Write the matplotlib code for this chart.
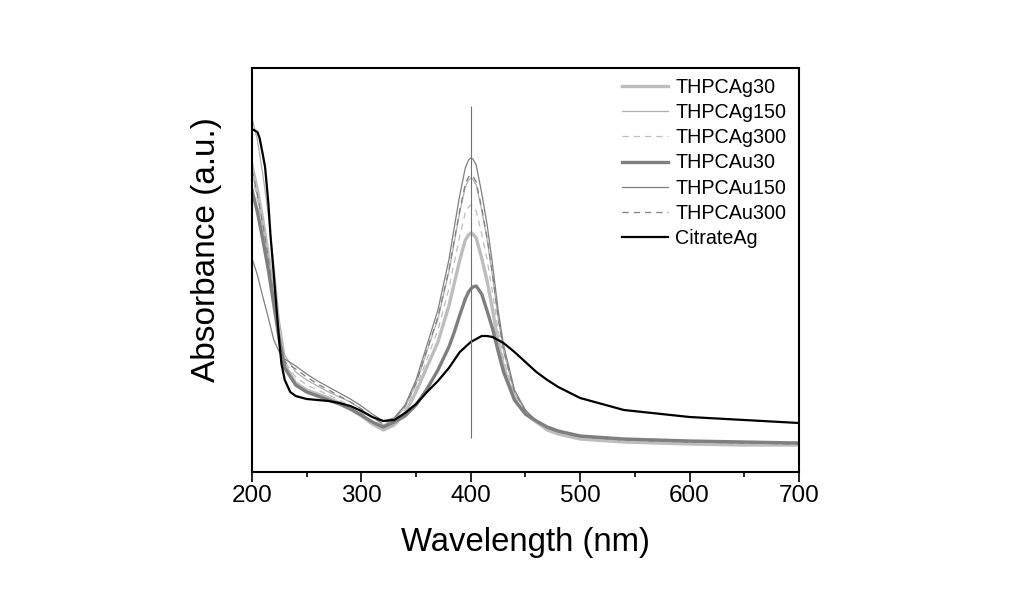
import numpy as np
import matplotlib
matplotlib.use("Agg")
from matplotlib import pyplot as plt

plt.rcParams['font.family'] = ['Liberation Sans', 'DejaVu Sans']

# wavelength grid (nm) for the THPC spectra
wl = [200, 205, 210, 215, 220, 225, 230, 240, 250, 260, 270, 280, 290, 300, 310, 320,
      330, 340, 350, 360, 370, 380, 385, 390, 395, 398, 400, 402, 405, 410, 415, 420, 425, 430,
      440, 450, 460, 470, 480, 500, 540, 600, 650, 700]

# absorbance, arbitrary units
thpc_ag30 = [307, 282, 252, 217, 177, 137, 107, 89, 82, 78, 74, 69, 63, 56, 48, 42,
             47, 59, 80, 105, 130, 166, 189, 212, 232, 237, 239, 238, 234, 214, 191, 162, 130, 105,
             72, 58, 50, 42, 38, 33, 30, 28, 27, 27]
thpc_ag150 = [354, 332, 297, 257, 207, 152, 117, 100, 92, 86, 80, 75, 70, 63, 55, 47,
              52, 65, 88, 121, 153, 200, 230, 260, 285, 292, 294, 293, 287, 262, 232, 195, 154, 121,
              79, 61, 51, 44, 40, 35, 32, 30, 29, 28]
thpc_ag300 = [297, 272, 242, 210, 172, 134, 110, 95, 87, 82, 77, 72, 66, 59, 51, 44,
              49, 62, 84, 113, 142, 183, 210, 236, 259, 265, 267, 266, 261, 238, 212, 179, 142, 113,
              76, 60, 50, 43, 39, 34, 31, 29, 28, 27]
thpc_au30 = [282, 260, 232, 202, 167, 132, 104, 87, 80, 76, 72, 68, 63, 57, 50, 45,
             50, 56, 67, 83, 102, 125, 140, 157, 173, 180, 183, 185, 186, 178, 161, 143, 121, 100,
             72, 58, 51, 45, 41, 36, 33, 31, 30, 29]
thpc_au150 = [214, 197, 175, 154, 132, 120, 113, 106, 98, 91, 85, 79, 73, 66, 58, 51,
              54, 67, 92, 127, 162, 212, 245, 277, 304, 312, 314, 313, 307, 279, 247, 207, 162, 127,
              82, 62, 51, 44, 40, 36, 33, 31, 30, 29]
thpc_au300 = [302, 277, 247, 214, 174, 137, 110, 103, 95, 88, 82, 76, 70, 63, 55, 48,
              54, 66, 89, 122, 155, 202, 232, 262, 288, 295, 297, 296, 290, 264, 234, 197, 155, 122,
              80, 61, 51, 44, 40, 35, 32, 30, 29, 28]

# citrate-capped Ag has its own grid
wl_cit = [200, 205, 207, 210, 212, 215, 217, 220, 222, 225, 227, 230, 235, 240, 250, 260,
          270, 280, 290, 300, 310, 320, 330, 340, 350, 360, 370, 380, 390, 400, 410, 415,
          420, 430, 440, 450, 460, 470, 480, 500, 540, 600, 650, 700]
citrate_ag = [343, 340, 334, 317, 305, 269, 236, 197, 170, 130, 108, 92, 80, 76, 73, 72,
              71, 69, 66, 61, 55, 51, 52, 59, 68, 80, 91, 104, 120, 130, 136, 136,
              135, 129, 120, 110, 100, 92, 85, 74, 62, 55, 52, 49]

labels = ['THPCAg30', 'THPCAg150', 'THPCAg300', 'THPCAu30', 'THPCAu150', 'THPCAu300', 'CitrateAg']

fig = plt.figure(figsize=(10.09, 5.92), dpi=100)
ax = fig.add_axes([0.2497, 0.2027, 0.5421, 0.6824])

light = '#bdbdbd'
mid = '#7f7f7f'
ax.plot(wl, thpc_ag30, color=light, lw=2.4, label=labels[0])
ax.plot(wl, thpc_ag150, color='#b0b0b0', lw=0.9, label=labels[1])
ax.plot(wl, thpc_ag300, color=light, lw=0.9, dashes=(5, 4), label=labels[2])
ax.plot(wl, thpc_au30, color=mid, lw=2.4, label=labels[3])
ax.plot(wl, thpc_au150, color=mid, lw=0.9, label=labels[4])
ax.plot(wl, thpc_au300, color=mid, lw=0.9, dashes=(5, 4), label=labels[5])
ax.plot(wl_cit, citrate_ag, color='black', lw=1.6, label=labels[6])

# marker line at 400 nm
ax.vlines(400, 34, 366, color='#707070', lw=0.8)

ax.set_xlim(200, 700)
ax.set_ylim(0, 404)
ax.set_xticks([200, 300, 400, 500, 600, 700])
ax.set_xticks([250, 350, 450, 550, 650], minor=True)
ax.set_yticks([])
ax.tick_params(axis='x', which='major', direction='out', length=7, width=1.2,
               labelsize=17.5, pad=2.5)
ax.tick_params(axis='x', which='minor', direction='out', length=3.6, width=1.2)
for s in ax.spines.values():
    s.set_linewidth(1.5)

ax.set_xlabel('Wavelength (nm)', fontsize=23.7)
ax.xaxis.set_label_coords(0.5, -0.136)
ax.set_ylabel('Absorbance (a.u.)', fontsize=24)
ax.yaxis.set_label_coords(-0.055, 0.55)

leg = ax.legend(loc='upper left', bbox_to_anchor=(0.676, 0.975), frameon=False,
                fontsize=14.2, handlelength=2.35, handletextpad=0.36,
                labelspacing=0.31, borderpad=0, borderaxespad=0)

plt.savefig('out.png', dpi=100)
